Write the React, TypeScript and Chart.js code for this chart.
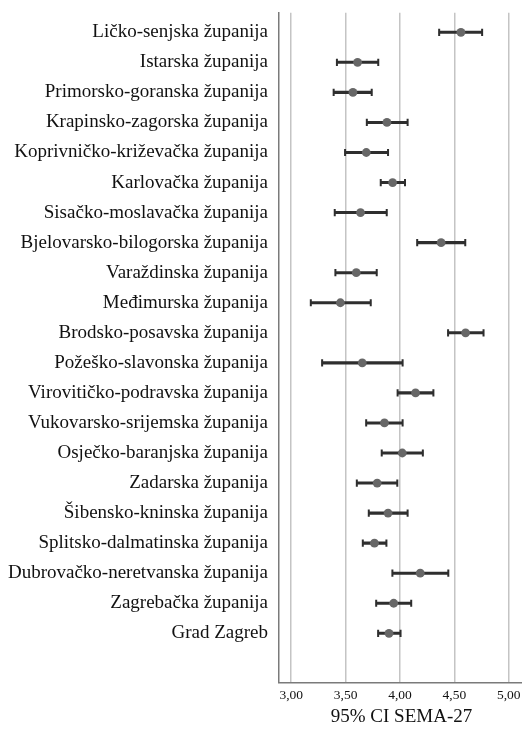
import React, { useEffect, useRef } from "react";
import { Chart, registerables } from "chart.js";

Chart.register(...registerables);

const categories = [
  "Ličko-senjska županija",
  "Istarska županija",
  "Primorsko-goranska županija",
  "Krapinsko-zagorska županija",
  "Koprivničko-križevačka županija",
  "Karlovačka županija",
  "Sisačko-moslavačka županija",
  "Bjelovarsko-bilogorska županija",
  "Varaždinska županija",
  "Međimurska županija",
  "Brodsko-posavska županija",
  "Požeško-slavonska županija",
  "Virovitičko-podravska županija",
  "Vukovarsko-srijemska županija",
  "Osječko-baranjska županija",
  "Zadarska županija",
  "Šibensko-kninska županija",
  "Splitsko-dalmatinska županija",
  "Dubrovačko-neretvanska županija",
  "Zagrebačka županija",
  "Grad Zagreb",
];

const means = [
  4.56, 3.61, 3.567, 3.88, 3.69, 3.932, 3.637, 4.378, 3.598, 3.452, 4.603,
  3.653, 4.143, 3.857, 4.021, 3.79, 3.89, 3.765, 4.186, 3.942, 3.899,
];
const lower = [
  4.36, 3.42, 3.39, 3.695, 3.495, 3.823, 3.4, 4.158, 3.406, 3.18, 4.442,
  3.284, 3.978, 3.689, 3.832, 3.603, 3.713, 3.658, 3.93, 3.781, 3.799,
];
const upper = [
  4.755, 3.8, 3.74, 4.07, 3.89, 4.046, 3.878, 4.6, 3.786, 3.731, 4.768,
  4.024, 4.307, 4.024, 4.21, 3.975, 4.07, 3.875, 4.444, 4.103, 4.005,
];
const xTicks = [3, 3.5, 4, 4.5, 5];
const xTitle = "95% CI SEMA-27";

const SERIF = "'Liberation Serif', 'Times New Roman', serif";

export default function App() {
  const ref = useRef<HTMLCanvasElement | null>(null);

  useEffect(() => {
    if (!ref.current) return;
    const chart = new Chart(ref.current, {
      type: "scatter",
      data: {
        datasets: [
          {
            type: "scatter",
            data: means.map((v, i) => ({ x: v, y: i + 1 })),
            pointStyle: "circle",
            pointRadius: 4.4,
            pointBackgroundColor: "#676767",
            pointBorderColor: "#676767",
            pointBorderWidth: 0,
            order: 0,
          } as any,
          {
            type: "scatter",
            data: lower
              .map((v, i) => ({ x: v, y: i + 1 }))
              .concat(upper.map((v, i) => ({ x: v, y: i + 1 }))),
            pointStyle: "line",
            rotation: 90,
            pointRadius: 3.6,
            pointBorderColor: "#2e2e2e",
            pointBorderWidth: 2,
            order: 1,
          } as any,
          {
            type: "bar",
            indexAxis: "y",
            data: lower.map((l, i) => ({ y: i + 1, x: [l, upper[i]] })),
            backgroundColor: "#2e2e2e",
            borderWidth: 0,
            barThickness: 2.4,
            order: 2,
          } as any,
        ],
      },
      options: {
        responsive: false,
        animation: false,
        devicePixelRatio: 1,
        layout: { padding: { top: 12.7, right: 4.7, bottom: 0, left: 0 } },
        plugins: {
          legend: { display: false },
          tooltip: { enabled: false },
        },
        scales: {
          x: {
            type: "linear",
            position: "bottom",
            min: 2.8875,
            max: 5.14,
            offset: false,
            afterBuildTicks: (scale: any) => {
              scale.ticks = xTicks.map((v) => ({ value: v }));
            },
            afterFit: (scale: any) => {
              scale.height = 49.3;
              scale.paddingLeft = 0;
              scale.paddingRight = 0;
            },
            grid: {
              color: "#c4c4c4",
              lineWidth: 1.5,
              drawTicks: false,
            },
            border: { display: true, color: "#7a7a7a", width: 1.5 },
            ticks: {
              padding: 5,
              color: "#111",
              font: { family: SERIF, size: 13.5 },
              callback: (v: any) => Number(v).toFixed(2).replace(".", ","),
            },
            title: {
              display: true,
              text: xTitle,
              color: "#111",
              font: { family: SERIF, size: 19 },
              padding: { top: 0, bottom: 4 },
            },
          },
          y: {
            type: "linear",
            position: "left",
            reverse: true,
            min: 0.348,
            max: 22.644,
            offset: false,
            afterBuildTicks: (scale: any) => {
              scale.ticks = categories.map((_, i) => ({ value: i + 1 }));
            },
            afterFit: (scale: any) => {
              scale.width = 279;
              scale.paddingTop = 0;
              scale.paddingBottom = 0;
            },
            grid: { display: false, drawTicks: false },
            border: { display: true, color: "#7a7a7a", width: 1.5 },
            ticks: {
              padding: 11,
              color: "#111",
              autoSkip: false,
              font: { family: SERIF, size: 19 },
              callback: (v: any) => categories[Math.round(Number(v)) - 1] ?? "",
            },
          },
        },
      } as any,
    });
    return () => chart.destroy();
  }, []);

  return (
    <div
      style={{
        position: "absolute",
        left: 0,
        top: 0,
        width: 522,
        height: 732,
        overflow: "hidden",
        background: "#fff",
      }}
    >
      <canvas ref={ref} width={530} height={732} style={{ display: "block" }} />
    </div>
  );
}
